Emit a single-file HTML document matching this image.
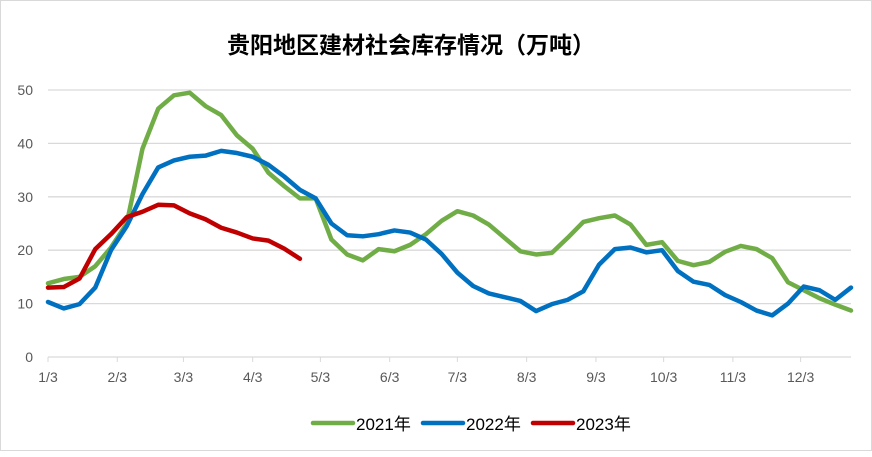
<!DOCTYPE html>
<html><head><meta charset="utf-8"><style>
body{margin:0;background:#fff;}
#c{position:relative;width:872px;height:451px;border:1px solid #d9d9d9;box-sizing:border-box;}
text{font-family:"Liberation Sans","Noto Sans CJK SC",sans-serif;}
</style></head><body>
<div id="c">
<svg id="s" width="872" height="451">
<text x="410" y="52" text-anchor="middle" font-size="23" font-weight="bold" fill="#000">贵阳地区建材社会库存情况（万吨）</text>
<g id="grid"></g><g id="axes"></g><g id="lines"></g>
<g id="legend">
<line x1="312" y1="422" x2="352" y2="422" stroke="#70ad47" stroke-width="4.5" stroke-linecap="round"/>
<text x="355" y="429" font-size="17">2021年</text>
<line x1="422" y1="422" x2="462" y2="422" stroke="#0070c0" stroke-width="4.5" stroke-linecap="round"/>
<text x="465" y="429" font-size="17">2022年</text>
<line x1="532" y1="422" x2="572" y2="422" stroke="#c00000" stroke-width="4.5" stroke-linecap="round"/>
<text x="575" y="429" font-size="17">2023年</text>
</g>
</svg></div>
<script>
const yTicks=[0,10,20,30,40,50];
const xLabels=["1/3","2/3","3/3","4/3","5/3","6/3","7/3","8/3","9/3","10/3","11/3","12/3"];
const xLabelWeeks=[0,4.4,8.6,13,17.3,21.7,26,30.4,34.8,39.1,43.5,47.8];
const s2021=[13.8,14.6,15,17,20.5,25,39,46.5,49,49.5,47,45.3,41.5,39,34.5,32,29.7,29.7,22,19.2,18.1,20.2,19.8,21,23,25.5,27.3,26.5,24.8,22.3,19.8,19.2,19.5,22.3,25.3,26,26.5,24.8,21,21.5,18,17.2,17.8,19.7,20.8,20.2,18.5,14,12.5,11,9.8,8.7];
const s2022=[10.3,9.1,9.9,13,20,24.5,30.5,35.5,36.8,37.5,37.7,38.6,38.2,37.5,36,33.8,31.3,29.7,25,22.8,22.6,23,23.7,23.3,22,19.3,15.8,13.3,11.9,11.2,10.5,8.6,9.9,10.7,12.3,17.3,20.2,20.5,19.6,20,16.1,14.1,13.5,11.6,10.3,8.7,7.8,10,13.2,12.5,10.7,13];
const s2023=[13,13.1,14.7,20.2,23,26.2,27.2,28.5,28.4,26.9,25.8,24.2,23.3,22.2,21.8,20.3,18.4];
const NS="http://www.w3.org/2000/svg";
const x0=47,x1=850,y0=356,y1=89,nW=51;
const X=i=>x0+(x1-x0)*i/nW, Y=v=>y0-(y0-y1)*v/50;
function mk(t,a,p){const e=document.createElementNS(NS,t);for(const k in a)e.setAttribute(k,a[k]);p.appendChild(e);return e;}
const g=document.getElementById('grid'),ax=document.getElementById('axes'),ln=document.getElementById('lines');
yTicks.forEach(v=>{
 if(v>0){const l=mk('line',{x1:x0,x2:x1,y1:Y(v),y2:Y(v),stroke:'#d9d9d9','stroke-width':1.3},g);
 
 }
 const t=mk('text',{x:32,y:Y(v)+5,'text-anchor':'end','font-size':14,fill:'#595959'},ax);t.textContent=v;
 
 
});
const base=mk('line',{x1:x0,x2:x1,y1:y0,y2:y0,stroke:'#d9d9d9','stroke-width':1.3},ax);


xLabels.forEach((lab,i)=>{
 const x=X(xLabelWeeks[i]);
 const tk=mk('line',{x1:x,x2:x,y1:y0,y2:y0+5,stroke:'#d9d9d9'},ax);
 
 
 const t=mk('text',{x:x,y:y0+25,'text-anchor':'middle','font-size':14,fill:'#595959'},ax);t.textContent=lab;
 
 
});
[[s2021,'#70ad47','line-2021'],[s2022,'#0070c0','line-2022'],[s2023,'#c00000','line-2023']].forEach(([d,c,n])=>{
 const p=mk('polyline',{points:d.map((v,i)=>X(i)+','+Y(v)).join(' '),fill:'none',stroke:c,'stroke-width':4.5,'stroke-linejoin':'round','stroke-linecap':'round'},ln);
 
 
});
</script>
</body></html>
